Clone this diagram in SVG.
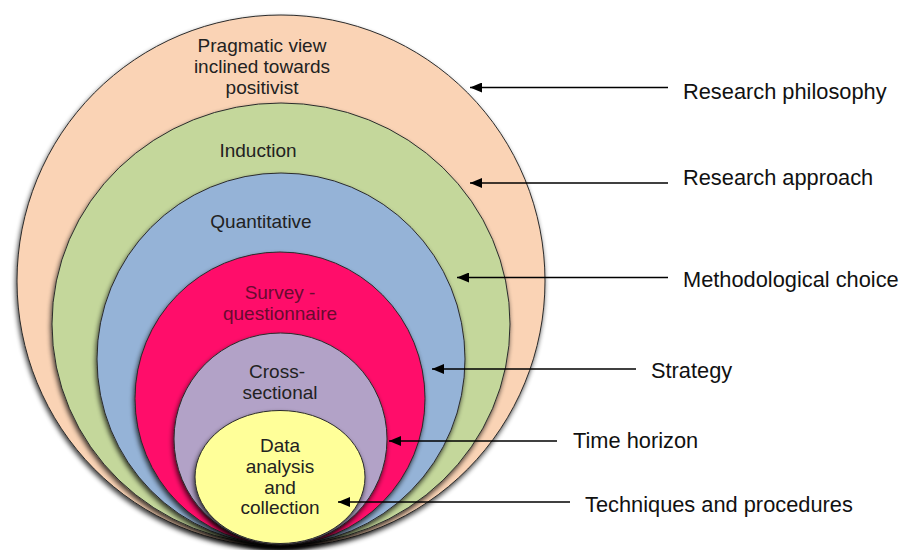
<svg xmlns="http://www.w3.org/2000/svg" width="901" height="550" viewBox="0 0 901 550">
<defs>
<filter id="sh" x="-10%" y="-10%" width="120%" height="125%">
<feGaussianBlur in="SourceAlpha" stdDeviation="2.5"/>
<feOffset dx="-1" dy="3" result="b"/>
<feComponentTransfer><feFuncA type="linear" slope="0.75"/></feComponentTransfer>
<feMerge><feMergeNode/><feMergeNode in="SourceGraphic"/></feMerge>
</filter>
<marker id="ah" viewBox="0 0 12 10" refX="12" refY="5" markerWidth="12" markerHeight="10" markerUnits="userSpaceOnUse" orient="auto">
<path d="M0,0 L12,5 L0,10 Z" fill="#000"/>
</marker>
<style>
.ring{stroke:#2b2b2b;stroke-width:1;filter:url(#sh)}
.in{font-family:"Liberation Sans",Arial,sans-serif;font-size:19px;fill:#222;text-anchor:middle}
.lab{font-family:"Liberation Sans",Arial,sans-serif;font-size:21.8px;fill:#111}
.con{stroke:#000;stroke-width:1.5;fill:none}
</style>
</defs>
<rect width="901" height="550" fill="#fff"/>
<g id="philosophy">
<ellipse class="ring" cx="281" cy="281" rx="264" ry="266" fill="#FAD3B5"/>
<text class="in" x="262" y="52">Pragmatic view</text>
<text class="in" x="262" y="73">inclined towards</text>
<text class="in" x="262" y="94">positivist</text>
</g>
<g id="approach">
<ellipse class="ring" cx="281" cy="324" rx="229" ry="221" fill="#C4D79B"/>
<text class="in" x="258" y="157">Induction</text>
</g>
<g id="choice">
<ellipse class="ring" cx="281" cy="359" rx="184" ry="186" fill="#95B3D7"/>
<text class="in" x="261" y="228">Quantitative</text>
</g>
<g id="strategy">
<ellipse class="ring" cx="280" cy="398.5" rx="145" ry="146.5" fill="#FF0A6A"/>
<text class="in" x="280" y="299" style="fill:#6a0a30">Survey -</text>
<text class="in" x="280" y="320" style="fill:#6a0a30">questionnaire</text>
</g>
<g id="horizon">
<ellipse class="ring" cx="280.5" cy="439" rx="106.5" ry="106" fill="#B2A2C7"/>
<text class="in" x="277" y="378">Cross-</text>
<text class="in" x="280" y="399">sectional</text>
</g>
<g id="techniques">
<ellipse class="ring" cx="280" cy="477" rx="85" ry="66.5" fill="#FFFF99"/>
<text class="in" x="280" y="452">Data</text>
<text class="in" x="280" y="473">analysis</text>
<text class="in" x="280" y="494">and</text>
<text class="in" x="280" y="514">collection</text>
</g>
<g id="connectors">
<line class="con" x1="668" y1="87.5" x2="470" y2="87.5" marker-end="url(#ah)"/>
<line class="con" x1="668" y1="183" x2="470" y2="183" marker-end="url(#ah)"/>
<line class="con" x1="668" y1="277.5" x2="457" y2="277.5" marker-end="url(#ah)"/>
<line class="con" x1="636" y1="369" x2="432" y2="369" marker-end="url(#ah)"/>
<line class="con" x1="557" y1="441" x2="389" y2="441" marker-end="url(#ah)"/>
<line class="con" x1="570" y1="502" x2="338" y2="502" marker-end="url(#ah)"/>
</g>
<g id="labels">
<text class="lab" x="683" y="99">Research philosophy</text>
<text class="lab" x="683" y="185">Research approach</text>
<text class="lab" x="683" y="287">Methodological choice</text>
<text class="lab" x="651" y="378">Strategy</text>
<text class="lab" x="573" y="448">Time horizon</text>
<text class="lab" x="585" y="512">Techniques and procedures</text>
</g>
</svg>
